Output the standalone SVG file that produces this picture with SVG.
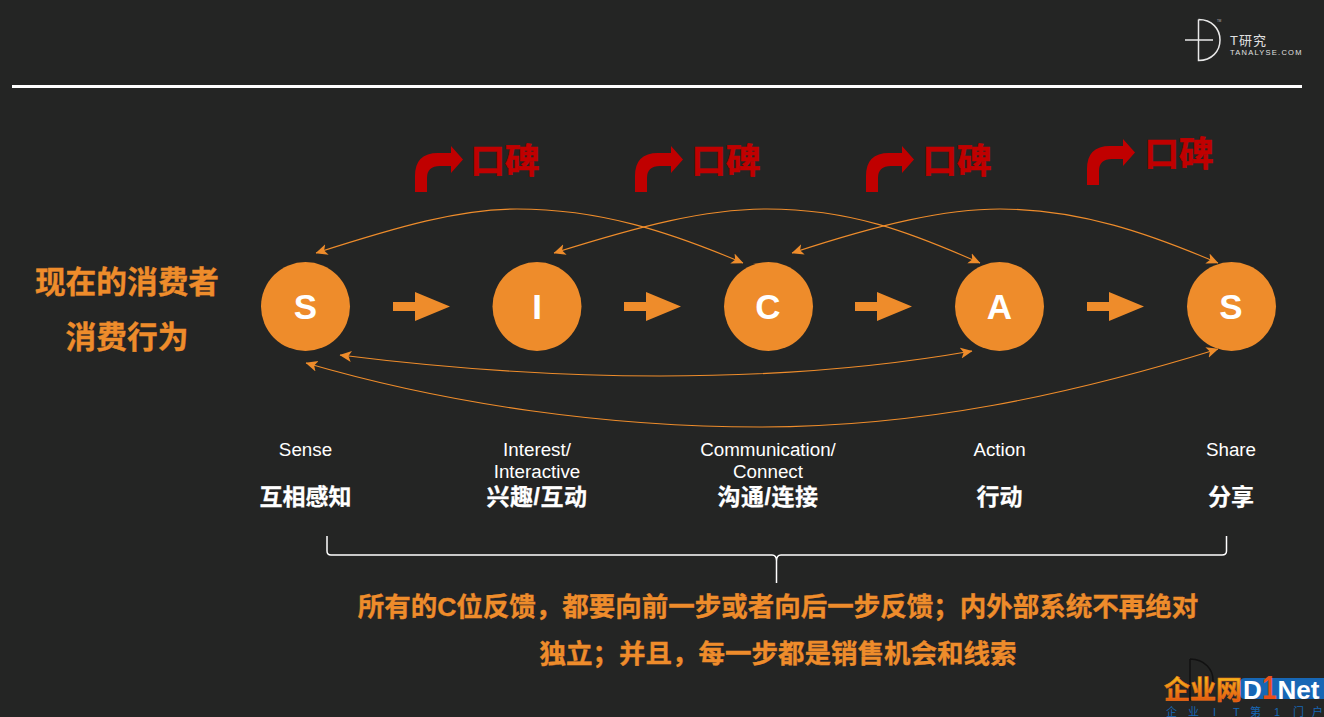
<svg xmlns="http://www.w3.org/2000/svg" width="1324" height="717" viewBox="0 0 1324 717">
<style>
.cjk{font-family:"Liberation Sans","Noto Sans CJK SC",sans-serif;font-weight:700}
.c{text-anchor:middle}
.o{fill:#ee8c2b}
.ot{fill:#ee8c2b;stroke:#ee8c2b;stroke-width:.35}
.w{fill:#fff;stroke:#fff;stroke-width:.25}
.en{font-family:"Liberation Sans",sans-serif;font-size:18.800px;fill:#fff;text-anchor:middle}
.let{font-family:"Liberation Sans",sans-serif;font-size:35px;font-weight:700;fill:#fff;text-anchor:middle}
.zh{font-size:23px}
.sp{letter-spacing:.5px}
.kb{font-size:34.500px;fill:#c00000;stroke:#c00000;stroke-width:.6}
.big{font-size:30.700px}
.foot{font-size:26.500px}
.lat{font-family:"Liberation Sans",sans-serif;font-weight:700;fill:#fff}
.curve{fill:none;stroke:#ee8c2b;stroke-width:1.100;marker-start:url(#ah);marker-end:url(#ah)}
</style>
<defs>
<marker id="ah" viewBox="0 0 12 12" refX="11.500" refY="6" markerWidth="12" markerHeight="12" markerUnits="userSpaceOnUse" orient="auto-start-reverse">
<path d="M12 6L0 .5L3 6L0 11.500Z" fill="#ee8c2b"/>
</marker>
<path id="bent" d="M415 192V176Q415 153 438 153H451V146L463 159.500L451 173V166H440Q427 166 427 178V192Z" fill="#c00000"/>
<path id="fat" d="M393 302H415V292L450 306.500L415 321V311H393Z" fill="#ee8c2b"/>
<linearGradient id="og" x1="0" y1="0" x2="0" y2="1"><stop offset="0" stop-color="#f6c21c"/><stop offset="1" stop-color="#e0480c"/></linearGradient>
</defs>
<rect width="1324" height="717" fill="#242524"/>
<g id="logo">
<path d="M1185 40H1213M1198.500 19.500V60.500C1212 60.500 1220 51 1220 40C1220 29 1212 19.500 1198.500 19.500" fill="none" stroke="#e8e8e8" stroke-width="1.500"/>
<text x="1230" y="45" class="cjk" style="font-weight:400" font-size="13" letter-spacing="1" fill="#e0e0e0">T研究</text>
<text x="1230" y="55" font-family="Liberation Sans,sans-serif" font-size="7.500" letter-spacing="1.250" fill="#e0e0e0">TANALYSE.COM</text>
<text x="1217" y="22" font-family="Liberation Sans,sans-serif" font-size="3" fill="#bbb">TM</text>
</g>
<rect id="rule" x="12" y="85" width="1290" height="3" fill="#fff"/>
<g id="kb1"><use href="#bent"/><text x="470.500" y="173" class="cjk kb">口碑</text></g>
<g id="kb2"><use href="#bent" x="220"/><text x="691.500" y="173" class="cjk kb">口碑</text></g>
<g id="kb3"><use href="#bent" x="451"/><text x="922.500" y="173" class="cjk kb">口碑</text></g>
<g id="kb4"><use href="#bent" x="672" y="-7"/><text x="1144.500" y="166" class="cjk kb">口碑</text></g>
<g id="title"><text x="127" y="293" class="cjk c ot big">现在的消费者</text><text x="127" y="348" class="cjk c ot big">消费行为</text></g>
<g id="connectors">
<path class="curve" d="M316 253C400 226 460 209 517 209C600 209 670 232 743 263"/>
<path class="curve" d="M554 253C640 226 705 209 767 209C850 209 910 232 980 263"/>
<path class="curve" d="M792 253C880 224 945 209 1000 209C1080 209 1150 234 1218 263"/>
<path class="curve" d="M340 355C460 370 570 376 660 376C770 376 870 369 972 351"/>
<path class="curve" d="M306 363C450 405 610 427 760 427C920 427 1070 395 1218 349"/>
<use href="#fat"/><use href="#fat" x="231"/><use href="#fat" x="462"/><use href="#fat" x="694"/>
</g>
<g id="n1"><circle cx="305.500" cy="306.500" r="44.500" class="o"/><text x="305.500" y="319" class="let">S</text><text x="305.500" y="456" class="en">Sense</text><text x="305.500" y="505" class="cjk c w zh">互相感知</text></g>
<g id="n2"><circle cx="537" cy="306.500" r="44.500" class="o"/><text x="537" y="319" class="let">I</text><text x="537" y="456" class="en">Interest/</text><text x="537" y="478" class="en">Interactive</text><text x="537" y="505" class="cjk c w zh sp">兴趣/互动</text></g>
<g id="n3"><circle cx="768.500" cy="306.500" r="44.500" class="o"/><text x="768" y="319" class="let">C</text><text x="768" y="456" class="en">Communication/</text><text x="768" y="478" class="en">Connect</text><text x="768" y="505" class="cjk c w zh sp">沟通/连接</text></g>
<g id="n4"><circle cx="999.500" cy="306.500" r="44.500" class="o"/><text x="999.500" y="319" class="let">A</text><text x="999.500" y="456" class="en">Action</text><text x="999.500" y="505" class="cjk c w zh">行动</text></g>
<g id="n5"><circle cx="1231.500" cy="306.500" r="44.500" class="o"/><text x="1231" y="319" class="let">S</text><text x="1231" y="456" class="en">Share</text><text x="1231" y="505" class="cjk c w zh">分享</text></g>
<path id="brace" d="M327 536V551Q327 555 331 555H772Q776.500 555 776.500 561V583V561Q776.500 555 781 555H1222Q1226.500 555 1226.500 551V536" fill="none" stroke="#fff" stroke-width="1.500"/>
<g id="foot"><text x="778" y="616" class="cjk c ot foot">所有的C位反馈，都要向前一步或者向后一步反馈；内外部系统不再绝对</text><text x="778" y="663" class="cjk c ot foot">独立；并且，每一步都是销售机会和线索</text></g>
<g id="watermark">
<path d="M1190 659V700C1205 700 1213 690 1213 680C1213 670 1205 659 1190 659" fill="none" stroke="#111" stroke-width="1.500"/>
<path d="M1245 678H1324V699H1245Q1240 699 1240 694V683Q1240 678 1245 678Z" fill="#1767b5"/>
<text x="1164" y="699" class="cjk" font-size="26" fill="url(#og)" stroke="#e8701a" stroke-width=".6">企业网</text>
<text x="1243" y="699" class="lat" font-size="26">D</text>
<text transform="translate(1262 699) scale(.8 1)" font-family="Liberation Sans,sans-serif" font-weight="700" font-size="33" fill="#e8501a">1</text>
<text x="1277.500" y="699" class="lat" font-size="26">Net</text>
<text y="716" x="1166 1188 1213 1233 1250 1274 1293 1312" class="cjk" style="font-weight:400" font-size="11" fill="#1767b5">企业IT第1门户</text>
</g>
</svg>
